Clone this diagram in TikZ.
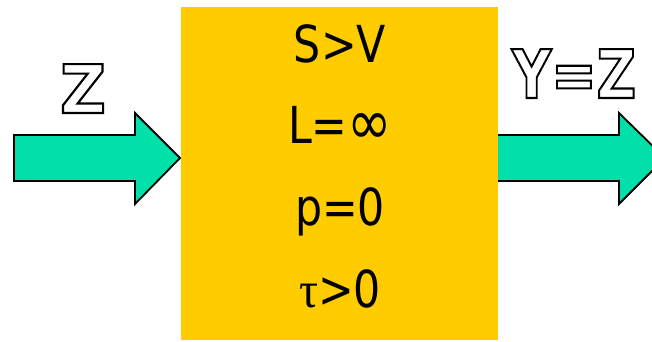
\documentclass[tikz,border=0pt]{standalone}
\usepackage{fontspec}
\setmainfont{DejaVu Sans Condensed}
\newfontfamily\outfont{DejaVu Sans Condensed Bold}
\newfontfamily\greekfont{Liberation Serif}
\usepackage{graphicx}
\definecolor{boxyellow}{HTML}{FFCC00}
\definecolor{arrowgreen}{HTML}{00E0A8}
\tikzset{
  blockarrow/.style={fill=arrowgreen, draw=black, line width=1.8pt, line join=miter},
  boxtext/.style={font=\fontsize{51}{51}\selectfont, anchor=base, inner sep=0pt},
  outtext/.style={font=\fontsize{67}{67}\outfont, anchor=base, inner sep=0pt, text=white}
}
\newcommand{\outl}[1]{\special{pdf:literal direct 2 Tr 2.1 w 0 G}#1\special{pdf:literal direct 0 Tr}}
\begin{document}
\begin{tikzpicture}[x=1pt,y=-1pt]
\useasboundingbox (0,0) rectangle (652,341);
% arrows
\draw[blockarrow] (14,135) -- (135,135) -- (135,113) -- (180,158) -- (135,204) -- (135,181) -- (14,181) -- cycle;
\draw[blockarrow] (497,135) -- (619,135) -- (619,113) -- (665,158) -- (619,204) -- (619,181) -- (497,181) -- cycle;
% box
\node[fill=boxyellow, minimum width=317pt, minimum height=333pt, inner sep=0pt, anchor=north west] (box) at (181,7) {};
\node[boxtext] (t1) at (340,62) {\scalebox{0.93}[1]{S>V}};
\node[boxtext] (t2) at (340,143) {\scalebox{0.93}[1]{L=\raisebox{-1pt}{\scalebox{1.25}{∞}}}};
\node[boxtext] (t3) at (340,225) {\scalebox{0.93}[1]{p=0}};
\node[boxtext] (t4) at (340,307) {\scalebox{0.93}[1]{{\greekfont τ}>0}};
% outlined labels
\node[outtext] (z) at (83,113) {\scalebox{1.05}[1]{\outl{Z}}};
\node[outtext] (yz) at (574,98) {\scalebox{0.9}[1]{\outl{Y=Z}}};
\end{tikzpicture}
\end{document}
